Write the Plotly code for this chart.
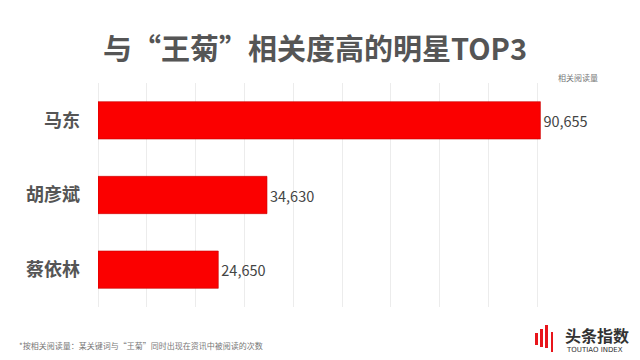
import plotly.graph_objects as go

names = ["马东", "胡彦斌", "蔡依林"]
reads = [90655, 34630, 24650]
value_labels = ["90,655", "34,630", "24,650"]

FONT = "Noto Sans CJK SC"
L, R, T, B = 98, 54, 83, 53
PW, PH = 640 - L - R, 360 - T - B

def px(x):
    return (x - L) / PW

def py(y):
    return (360 - B - y) / PH

fig = go.Figure()
fig.add_trace(go.Bar(
    y=names, x=reads, orientation="h",
    marker=dict(color="#fb0000", line=dict(color="#c80000", width=0.6)),
    width=0.5,
    text=value_labels, textposition="outside",
    textfont=dict(family=FONT, size=14.5, color="#444444"),
    cliponaxis=False,
))

fig.update_layout(
    width=640, height=360,
    margin=dict(l=L, r=R, t=T, b=B, autoexpand=False),
    paper_bgcolor="white", plot_bgcolor="white",
    showlegend=False,
    xaxis=dict(range=[0, 100000], dtick=10000, showgrid=True, gridcolor="#ececec",
               gridwidth=1, showticklabels=False, zeroline=True, zerolinecolor="#ececec",
               zerolinewidth=1, fixedrange=True),
    yaxis=dict(range=[2.5, -0.5], autorange=False, showgrid=False,
               tickfont=dict(family=FONT, size=18, color="#555555"),
               tickprefix="<b>", ticksuffix="</b>", ticklabelstandoff=17,
               fixedrange=True),
)

fig.add_annotation(text="<b>与“王菊”相关度高的明星TOP3</b>", xref="paper", yref="paper",
                   x=px(315), y=py(47), xanchor="center", yanchor="middle",
                   showarrow=False, font=dict(family=FONT, size=29, color="#555555"))
fig.add_annotation(text="相关阅读量", xref="paper", yref="paper",
                   x=px(578), y=py(77), xanchor="center", yanchor="middle",
                   showarrow=False, font=dict(family=FONT, size=8, color="#777777"))
fig.add_annotation(text="*按相关阅读量：某关键词与“王菊”同时出现在资讯中被阅读的次数",
                   xref="paper", yref="paper", x=px(17), y=py(345), xanchor="left",
                   yanchor="middle", showarrow=False,
                   font=dict(family=FONT, size=8, color="#777777"))
# logo
fig.add_annotation(text="<b>头条指数</b>", xref="paper", yref="paper",
                   x=px(563), y=py(335), xanchor="left", yanchor="middle",
                   showarrow=False, font=dict(family=FONT, size=16, color="#333333"))
fig.add_annotation(text="TOUTIAO INDEX", xref="paper", yref="paper",
                   x=px(564), y=py(350), xanchor="left", yanchor="middle",
                   showarrow=False, font=dict(family="DejaVu Sans", size=7, color="#333333"))
icon = [(535, 538, 333, 345), (540, 543, 329, 347), (545, 548, 325, 348), (551, 553, 332, 352)]
for x0, x1, y0, y1 in icon:
    fig.add_shape(type="rect", xref="paper", yref="paper",
                  x0=px(x0), x1=px(x1), y0=py(y1), y1=py(y0),
                  fillcolor="#e8151b", line=dict(width=0))

fig.write_html("out.html", post_script="document.body.style.margin='0';",
               config={"displayModeBar": False})
